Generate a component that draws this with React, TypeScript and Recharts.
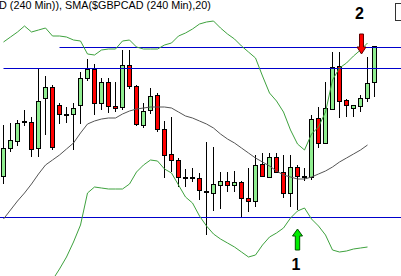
import React from 'react';
import { ComposedChart, Bar, Line, XAxis, YAxis, ReferenceLine, ReferenceDot } from 'recharts';

const W = 401;
const H = 276;

// GBPCAD 240 min candles, levels (0 = bottom edge, 276 = top edge)
const opens = [100, 128, 135, 154, 154, 128, 178, 189, 171, 162, 162, 171, 198, 207, 173, 194, 170, 169, 211, 190,
  151, 166, 181, 147, 122, 116, 99, 99, 98, 85, 83, 91, 95, 91, 94, 78, 75, 112, 99, 119,
  104, 83, 109, 100, 99, 158, 133, 167, 210, 176, 168, 170, 178, 194];
const closes = [128, 136, 153, 155, 127, 175, 189, 129, 162, 162, 168, 198, 207, 173, 194, 170, 168, 211, 190, 152,
  165, 180, 147, 121, 116, 99, 99, 98, 86, 84, 92, 95, 91, 94, 78, 75, 111, 100, 119, 104,
  83, 109, 100, 99, 157, 133, 168, 209, 175, 171, 171, 178, 193, 230];
const highs = [151, 153, 156, 166, 159, 207, 200, 191, 173, 169, 173, 204, 217, 212, 198, 198, 194, 226, 226, 191,
  173, 188, 183, 155, 159, 118, 107, 108, 103, 134, 129, 104, 104, 105, 95, 108, 121, 123, 123, 123,
  121, 121, 111, 108, 161, 169, 194, 224, 224, 177, 171, 181, 219, 230];
const lows = [92, 124, 130, 150, 119, 119, 141, 126, 152, 153, 126, 152, 195, 161, 166, 163, 164, 166, 187, 150,
  148, 162, 144, 98, 104, 89, 89, 94, 76, 41, 65, 67, 84, 84, 59, 64, 69, 99, 98, 103,
  78, 69, 66, 95, 96, 128, 133, 166, 158, 159, 159, 164, 174, 179];

// Bollinger bands and SMA(20)
const bbUpper = [234, 239, 244, 250, 244, 246, 248, 240, 240, 239, 236, 235, 222, 221, 226, 227, 227, 235, 236, 229,
  227, 227, 227, 231, 233, 240, 243, 247, 252, 254, 255, 248, 242, 237, 230, 224, 218, 200, 183, 175,
  164, 146, 132, 126, 142, 149, 164, 196, 208, 213, 220, 226, 233, null];
const bbLower = [null, null, null, null, null, null, null, -4, 7, 19, 34, 51, 83, 89, 88, 87, 87, 87, 92, 104,
  111, 116, 115, 107, 103, 91, 79, 73, 60, 50, 42, 37, 33, 29, 24, 19, 21, 31, 39, 43,
  48, 58, 65, 68, 57, 50, 41, 26, 24, 25, 27, 28, 29, null];
const sma20 = [57, 66, 75, 83, 92, 102, 111, 116, 121, 127, 133, 143, 152, 155, 157, 158, 158, 162, 165, 167,
  168, 169, 169, 169, 168, 164, 160, 158, 155, 152, 148, 142, 137, 133, 128, 123, 118, 114, 110, 105,
  101, 99, 97, 97, 99, 102, 105, 109, 114, 118, 122, 126, 131, null];

const levelTop = 228.5;
const levelMid = 207.5;
const levelLow = 58.5;

const buySignal = 42;
const sellSignal = 51;

const title = 'D (240 Min)), SMA($GBPCAD (240 Min),20)';

const data = opens.map((o, i) => ({
  i,
  open: o,
  close: closes[i],
  high: highs[i],
  low: lows[i],
  upper: bbUpper[i],
  lower: bbLower[i],
  sma: sma20[i],
}));

const Candle = (props: any) => {
  const { x, y, width, height, payload } = props;
  if (x == null || !payload) return null;
  const top = Math.min(y, y + height);
  const bottom = Math.max(y, y + height);
  const span = payload.high - payload.low || 1;
  const toPx = (v: number) => top + ((payload.high - v) / span) * (bottom - top);
  const cx = Math.floor(x + width / 2) + 0.5;
  const up = payload.close >= payload.open;
  const yo = toPx(payload.open);
  const yc = toPx(payload.close);
  const bt = Math.round(Math.min(yo, yc)) + 0.5;
  const bb = Math.round(Math.max(yo, yc)) + 0.5;
  return (
    <g>
      <line x1={cx} x2={cx} y1={Math.round(top)} y2={Math.round(bottom)} stroke="#000" strokeWidth={1} />
      {bb - bt < 1.5 ? (
        <rect x={cx - 2.5} y={bt - 0.5} width={5} height={2} fill="#000" />
      ) : (
        <rect x={cx - 2} y={bt} width={4} height={bb - bt} fill={up ? '#90ee90' : '#ff0000'} stroke="#000" strokeWidth={1} />
      )}
    </g>
  );
};

const DownArrow = (props: any) => {
  const { cx, cy } = props;
  if (cx == null) return null;
  const x = cx + 1;
  const d = `M${x - 2},${cy - 20} H${x + 2} V${cy - 7} H${x + 4.5} L${x},${cy} L${x - 4.5},${cy - 7} H${x - 2} Z`;
  return (
    <g>
      <path d={d} fill="#ff0000" stroke="#600000" strokeWidth={1} />
      <text x={x - 2} y={cy - 35} textAnchor="middle" fontSize={16} fontWeight="bold" fontFamily="Liberation Sans, Arial, sans-serif" fill="#000">2</text>
    </g>
  );
};

const UpArrow = (props: any) => {
  const { cx, cy } = props;
  if (cx == null) return null;
  const x = cx;
  const d = `M${x - 2.2},${cy + 21} H${x + 2.2} V${cy + 7} H${x + 5} L${x},${cy} L${x - 5},${cy + 7} H${x - 2.2} Z`;
  return (
    <g>
      <path d={d} fill="#00ee00" stroke="#005000" strokeWidth={1} />
      <text x={x - 1.5} y={cy + 41} textAnchor="middle" fontSize={16} fontWeight="bold" fontFamily="Liberation Sans, Arial, sans-serif" fill="#000">1</text>
    </g>
  );
};

export default function App() {
  const xMax = W / 7 - 0.5;
  return (
    <div style={{ position: 'absolute', left: 0, top: 0, width: W, height: H, background: '#fff', overflow: 'hidden' }}>
      <ComposedChart width={W} height={H} data={data} margin={{ top: 0, right: 0, bottom: 0, left: 0 }}>
        <XAxis dataKey="i" type="number" domain={[-0.5, xMax]} allowDataOverflow hide />
        <YAxis type="number" domain={[0, H]} allowDataOverflow hide />
        <ReferenceLine segment={[{ x: 8, y: levelTop }, { x: xMax, y: levelTop }]} stroke="#0000cc" strokeWidth={1} />
        <ReferenceLine segment={[{ x: 0, y: levelMid }, { x: xMax, y: levelMid }]} stroke="#0000cc" strokeWidth={1} />
        <ReferenceLine y={levelLow} stroke="#0000cc" strokeWidth={1} />
        <Line dataKey="upper" type="linear" stroke="#3ea23e" strokeWidth={1} dot={false} activeDot={false} isAnimationActive={false} />
        <Line dataKey="lower" type="linear" stroke="#3ea23e" strokeWidth={1} dot={false} activeDot={false} isAnimationActive={false} />
        <Line dataKey="sma" type="linear" stroke="#555" strokeWidth={1} dot={false} activeDot={false} isAnimationActive={false} />
        <Bar dataKey={(d: any) => [d.low, d.high]} barSize={7} shape={<Candle />} activeBar={false} isAnimationActive={false} />
        <ReferenceDot x={sellSignal} y={222} shape={<DownArrow />} />
        <ReferenceDot x={buySignal} y={47} shape={<UpArrow />} />
      </ComposedChart>
      <svg width={W} height={H} style={{ position: 'absolute', left: 0, top: 0, pointerEvents: 'none' }}>
        <text x={-1} y={8.5} textAnchor="start" fontSize={10.8} fontFamily="Liberation Sans, Arial, sans-serif" fill="#000">
          {title}
        </text>
        <rect x={395.5} y={3.5} width={10} height={17} fill="none" stroke="#333" strokeWidth={1} />
      </svg>
    </div>
  );
}
